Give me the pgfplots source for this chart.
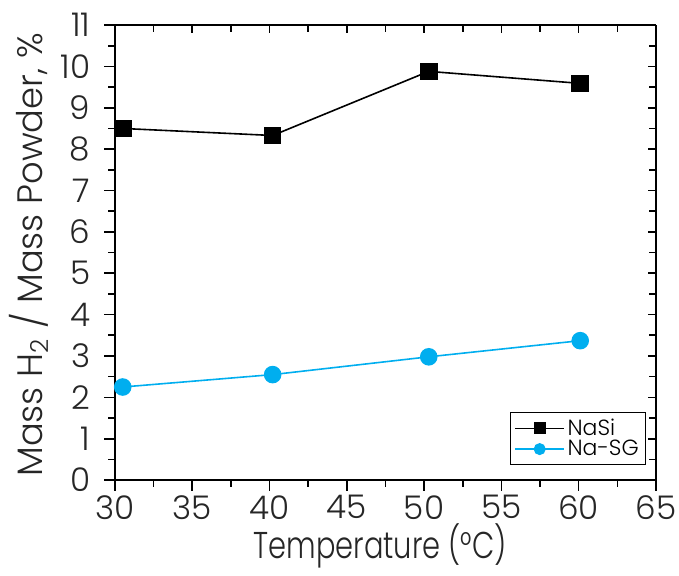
\documentclass[border=0pt]{standalone}
\usepackage{fontspec}
\setmainfont{Poppins Light}
\usepackage{graphicx}
\usepackage{pgfplots}
\pgfplotsset{compat=1.18}
\definecolor{sgblue}{RGB}{0,174,239}
\begin{document}
\begin{tikzpicture}
\begin{axis}[
  scale only axis, width=406pt, height=341.5pt,
  xmin=30, xmax=65, ymin=0, ymax=11,
  axis x line*=bottom, axis y line*=left,
  axis line style={line width=1.2pt,-},
  xtick={30,35,...,65}, ytick={0,1,...,11},
  minor x tick num=1, minor y tick num=1,
  tick align=outside,
  major tick length=8pt, minor tick length=5pt,
  tick style={line width=1.2pt,black},
  /pgf/number format/assume math mode=true,
  ticklabel style={font=\fontsize{24.5}{28}\selectfont, text=black!85},
  yticklabel style={xshift=-7pt},
  every axis y label/.style={at={([xshift=-54.75pt]axis description cs:0,0.495)}, rotate=90, anchor=base, inner sep=0pt, font=\fontsize{26.5}{30}\selectfont, text=black!85},
  every axis x label/.style={at={([yshift=-59pt]axis description cs:0.49,0)}, anchor=base, inner sep=0pt, font=\fontsize{28}{32}\selectfont, text=black!85},
  xlabel={\scalebox{0.775}[1]{Temperature (°C)}},
  ylabel={Mass H\textsubscript{2} / Mass Powder, \%},
  legend style={at={(0.9815,0.033)}, anchor=south east, font=\fontsize{16.5}{20}\selectfont, draw=black, line width=0.8pt, inner sep=3pt, row sep=-2pt},
  legend cell align=left,
  legend image code/.code={\draw[#1, line width=1pt] (0pt,0pt) -- (0.65cm,0pt) plot coordinates {(0.65cm,0pt)} -- (1.3cm,0pt);},
  legend image post style={mark size=4pt},
]
\addplot[black, line width=1.2pt, mark=square*, mark size=6pt, mark options={solid}] coordinates {
 (30.5,8.50) (40.2,8.33) (50.3,9.88) (60.1,9.59)};
\addlegendentry{NaSi}
\addplot[sgblue, line width=1.2pt, mark=*, mark size=6pt] coordinates {
 (30.5,2.25) (40.2,2.55) (50.3,2.98) (60.1,3.37)};
\addlegendentry{Na-SG}
\coordinate (sw) at (rel axis cs:0,0);
\coordinate (ne) at (rel axis cs:1,1);
\end{axis}
\begin{axis}[
  scale only axis, width=406pt, height=341.5pt,
  xmin=30, xmax=65, ymin=0, ymax=11,
  axis x line*=top, axis y line*=right,
  axis line style={line width=1.2pt,-},
  xtick={30,35,...,65}, ytick={0,1,...,11},
  minor x tick num=1, minor y tick num=1,
  tick align=inside,
  major tick length=6pt, minor tick length=5pt,
  tick style={line width=1.2pt,black},
  xticklabels={}, yticklabels={},
]
\end{axis}
\pgfresetboundingbox
\path ([xshift=-86.3pt,yshift=-71.3pt]sw) rectangle ([xshift=17.3pt,yshift=18.8pt]ne);
\end{tikzpicture}
\end{document}
